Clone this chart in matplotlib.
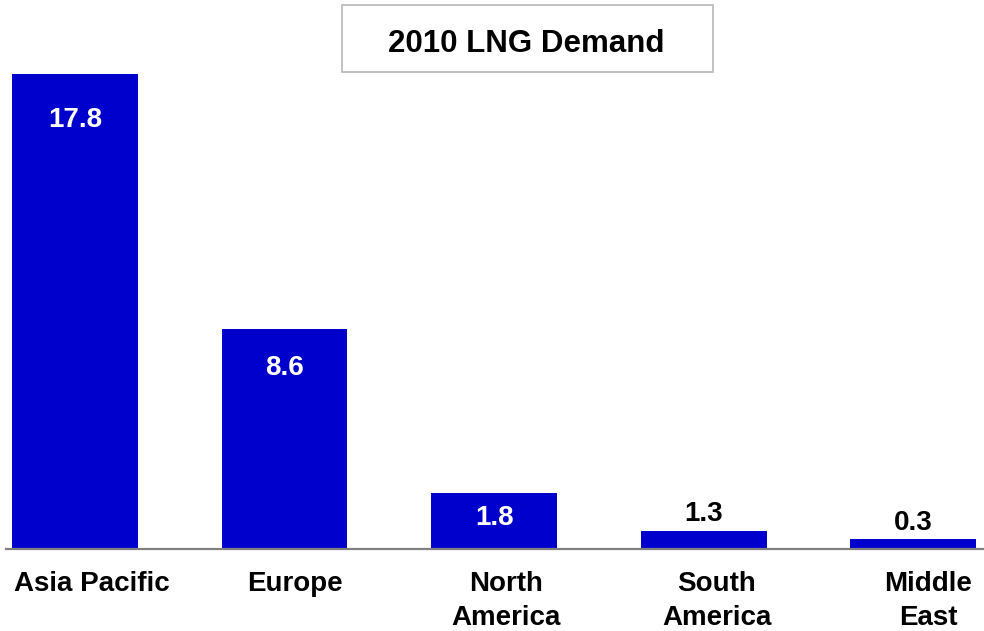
import matplotlib.pyplot as plt
from matplotlib.patches import Rectangle
import matplotlib.transforms as mtransforms

plt.rcParams['font.family'] = ['Liberation Sans', 'DejaVu Sans']
plt.rcParams['font.weight'] = 'bold'

regions = ['Asia Pacific', 'Europe', 'North\nAmerica', 'South\nAmerica', 'Middle\nEast']
# bar heights as drawn in the picture (the drawing is not exactly to scale)
heights = [17.8, 8.25, 2.1, 0.68, 0.37]
value_labels = ['17.8', '8.6', '1.8', '1.3', '0.3']

bar_color = '#0000CC'

fig = plt.figure(figsize=(9.84, 6.31), dpi=100)
ax = fig.add_axes([6 / 984, 82 / 631, 978 / 984, 549 / 631])

x = list(range(len(regions)))
ax.bar(x, heights, width=0.6, color=bar_color, edgecolor='none')
ax.set_xlim(-0.329, 4.337)
ax.set_ylim(0, 20.57)

# value labels: inside the tall bars (white), above the short ones (black)
offsets = [-33, -26, -12, 4, 3]
for xi, h, lab, off in zip(x, heights, value_labels, offsets):
    inside = off < 0
    ax.annotate(lab, (xi, h), xytext=(0, off * 0.72), textcoords='offset points',
                ha='center', va='top' if inside else 'bottom',
                color='white' if inside else 'black',
                fontsize=20, fontweight='bold')

for side in ['top', 'right', 'left']:
    ax.spines[side].set_visible(False)
ax.spines['bottom'].set_color('#808080')
ax.spines['bottom'].set_linewidth(1.6)
ax.set_yticks([])
ax.set_xticks(x)
ax.set_xticklabels(regions, fontsize=20, fontweight='bold', linespacing=1.38)
ax.tick_params(axis='x', length=0, pad=16)
label_shift = [17, 10, 12, 13, 15]
for t, s in zip(ax.get_xticklabels(), label_shift):
    t.set_transform(t.get_transform() +
                    mtransforms.ScaledTranslation(s / 100, 0, fig.dpi_scale_trans))

# title box
fig.patches.append(Rectangle((342 / 984, 1 - 72 / 631), 371 / 984, 67 / 631,
                             transform=fig.transFigure, facecolor='white',
                             edgecolor='#b8b8b8', linewidth=1.2))
fig.text(526 / 984, 1 - 44 / 631, '2010 LNG Demand', ha='center', va='center',
         fontsize=22.5, fontweight='bold')

fig.savefig('out.png', dpi=100)
